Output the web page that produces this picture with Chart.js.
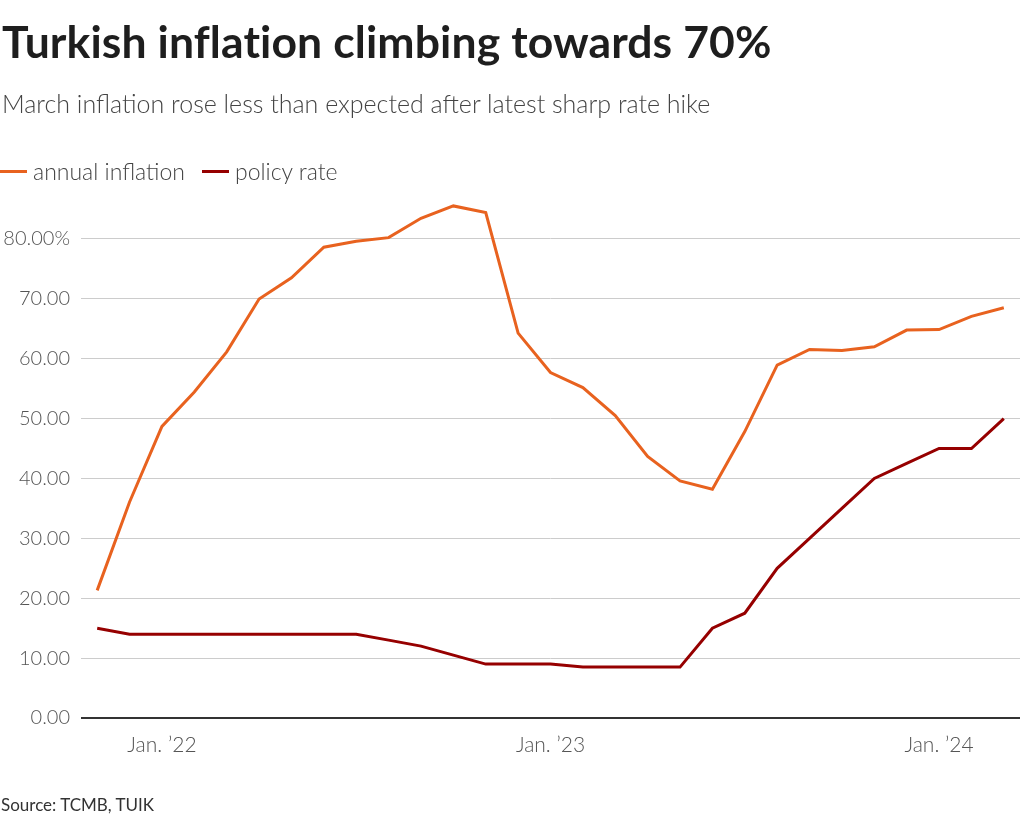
<!DOCTYPE html>
<html><head><meta charset="utf-8">
<script src="https://cdn.jsdelivr.net/npm/chart.js@4"></script>
<style>
html,body{margin:0;padding:0;background:#fff;width:1024px;height:824px;overflow:hidden;font-family:Lato,"Open Sans",sans-serif;}
#wrap{position:absolute;left:0;top:0;width:1024px;height:824px;}
#title{position:absolute;left:2px;top:14px;font-size:44.5px;font-weight:700;color:#1e1e1e;white-space:nowrap;letter-spacing:0.1px}
#sub{position:absolute;left:2px;top:88px;font-size:25px;font-weight:300;color:#444;white-space:nowrap}
#legend{position:absolute;left:0;top:157px;font-size:23px;font-weight:300;color:#444;white-space:nowrap;display:flex;align-items:center}
.sw{display:inline-block;width:27px;height:3px;margin-right:6px}
.it{display:flex;align-items:center;margin-right:17px}
#src{position:absolute;left:1px;top:794px;font-size:17px;color:#333;white-space:nowrap}
canvas{position:absolute;left:0;top:0}
</style></head><body>
<div id="wrap">
<canvas id="c" width="1024" height="824"></canvas>
<div id="title">Turkish inflation climbing towards 70%</div>
<div id="sub">March inflation rose less than expected after latest sharp rate hike</div>
<div id="legend"></div>
<div id="src">Source: TCMB, TUIK</div>
</div>
<script>
const months = ["2021-11","2021-12","2022-01","2022-02","2022-03","2022-04","2022-05","2022-06","2022-07","2022-08","2022-09","2022-10","2022-11","2022-12","2023-01","2023-02","2023-03","2023-04","2023-05","2023-06","2023-07","2023-08","2023-09","2023-10","2023-11","2023-12","2024-01","2024-02","2024-03"];
const inflation = [21.31,36.08,48.69,54.44,61.14,69.97,73.50,78.62,79.60,80.21,83.45,85.51,84.39,64.27,57.68,55.18,50.51,43.68,39.59,38.21,47.83,58.94,61.53,61.36,61.98,64.77,64.86,67.07,68.50];
const policyRate = [15,14,14,14,14,14,14,14,14,13,12,10.5,9,9,9,8.5,8.5,8.5,8.5,15,17.5,25,30,35,40,42.5,45,45,50];
const yTicks = [0,10,20,30,40,50,60,70,80];
const seriesNames = ["annual inflation","policy rate"];
const seriesColors = ["#e8621f","#960000"];

const lg = document.getElementById('legend');
seriesNames.forEach((n,i)=>{
  const d=document.createElement('span');d.className='it';
  d.innerHTML='<span class="sw" style="background:'+seriesColors[i]+'"></span>'+n;
  lg.appendChild(d);
});

new Chart(document.getElementById('c'),{
  type:'line',
  data:{labels:months,datasets:[
    {label:seriesNames[0],data:inflation,borderColor:seriesColors[0],borderWidth:3,pointRadius:0,tension:0,fill:false},
    {label:seriesNames[1],data:policyRate,borderColor:seriesColors[1],borderWidth:3,pointRadius:0,tension:0,fill:false}
  ]},
  options:{
    responsive:false,animation:false,
    layout:{padding:{left:0,right:4,top:191,bottom:56}},
    plugins:{legend:{display:false},tooltip:{enabled:false}},
    scales:{
      x:{offset:true,grid:{display:false,drawTicks:false},border:{display:false},
        afterFit:s=>{s.height=50;},
        ticks:{autoSkip:false,maxRotation:0,padding:15,color:'#555',font:{family:'Lato',size:21,weight:300},
          callback:function(v,i){const m=months[i];return m.endsWith('-01')?'Jan. \u2019'+m.slice(2,4):null;}}},
      y:{min:0,max:88,afterFit:s=>{s.width=81;},
        afterBuildTicks:s=>{s.ticks=yTicks.map(v=>({value:v}));},
        border:{display:false},
        grid:{drawTicks:false,color:c=>c.tick&&c.tick.value===0?'#333':'#cccccc',lineWidth:c=>c.tick&&c.tick.value===0?2:1},
        ticks:{padding:11,color:'#555',font:{family:'Lato',size:20,weight:300},
          callback:v=>v===80?'80.00%':v.toFixed(2)}}
    }
  }
});
</script>
</body></html>
